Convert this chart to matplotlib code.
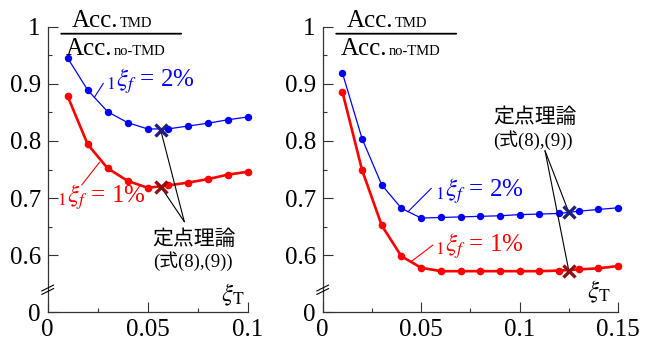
import numpy as np
import matplotlib
matplotlib.use("Agg")
import matplotlib.pyplot as plt

# data
xi_left = [0.01, 0.02, 0.03, 0.04, 0.05, 0.06, 0.07, 0.08, 0.09, 0.10]
left_2pct = [0.945, 0.889, 0.851, 0.832, 0.821, 0.821, 0.826, 0.831, 0.837, 0.842]
left_1pct = [0.878, 0.794, 0.752, 0.730, 0.718, 0.722, 0.727, 0.733, 0.741, 0.746]
left_fp_x = 0.0565
left_fp_2pct = 0.819
left_fp_1pct = 0.720

xi_right = [0.01, 0.02, 0.03, 0.04, 0.05, 0.06, 0.07, 0.08, 0.09, 0.10,
            0.11, 0.12, 0.13, 0.14, 0.15]
right_2pct = [0.919, 0.804, 0.723, 0.682, 0.665, 0.666, 0.667, 0.668, 0.669, 0.671,
              0.672, 0.673, 0.677, 0.680, 0.683]
right_1pct = [0.886, 0.749, 0.652, 0.598, 0.578, 0.572, 0.572, 0.572, 0.572, 0.572,
              0.572, 0.573, 0.575, 0.577, 0.581]
right_fp_x = 0.125
right_fp_2pct = 0.675
right_fp_1pct = 0.573

yticks = [0.5, 0.6, 0.7, 0.8, 0.9, 1.0]
ytick_labels = ["0", "0.6", "0.7", "0.8", "0.9", "1"]
left_xticks = [0, 0.05, 0.1]
left_xtick_labels = ["0", "0.05", "0.1"]
right_xticks = [0, 0.05, 0.1, 0.15]
right_xtick_labels = ["0", "0.05", "0.1", "0.15"]

label_2 = r"${}_{1}\xi_{f}$ = 2%"
label_1 = r"${}_{1}\xi_{f}$ = 1%"
note_1 = "定点理論"
note_2 = "(式(8),(9))"

plt.rcParams['font.family'] = 'serif'
plt.rcParams['font.serif'] = ['Liberation Serif']
plt.rcParams['mathtext.fontset'] = 'stix'
serif_cjk = ['Liberation Serif', 'Noto Sans CJK JP']

W, H = 653, 347
fig = plt.figure(figsize=(W / 100, H / 100), dpi=100)


def fp(x, y):
    # image pixel (top-left origin) -> figure pixels
    return (x, H - y)


def seg(ax, p0, p1, c="k", lw=0.8, c0="figure pixels", c1="figure pixels"):
    ax.annotate("", xy=p1, xycoords=c1, xytext=p0, textcoords=c0,
                arrowprops=dict(arrowstyle="-", color=c, lw=lw,
                                shrinkA=0, shrinkB=0), annotation_clip=False)


def setup(ax, x0, xmax, xticks, xlabels, minors):
    ax.set_xlim(0, xmax)
    ax.set_ylim(0.5, 1.0)
    ax.set_xticks(xticks)
    ax.set_xticklabels(xlabels)
    ax.set_xticks(minors, minor=True)
    ax.set_yticks(yticks)
    ax.set_yticklabels(ytick_labels)
    ax.set_yticks([0.65, 0.75, 0.85, 0.95], minor=True)
    ax.spines['top'].set_visible(False)
    ax.spines['right'].set_visible(False)
    for s in ['left', 'bottom']:
        ax.spines[s].set_linewidth(0.9)
        ax.spines[s].set_color("#333333")
    ax.tick_params(which='major', direction='in', length=7, width=0.8,
                   labelsize=18, pad=5, color="#333333")
    ax.tick_params(which='minor', direction='in', length=3, width=0.8,
                   color="#333333")
    # the fraction in the top left corner
    top = 26.7
    fig.text(*fp(x0 + 71, top + 0.5), "Acc.", fontsize=18, ha='right',
             va='baseline', transform=None)
    fig.text(*fp(x0 + 72, top + 0.5), "TMD", fontsize=10.5, va='baseline',
             transform=None)
    seg(ax, fp(x0 + 13.5, top + 7), fp(x0 + 133.5, top + 7), lw=1.3)
    fig.text(*fp(x0 + 65, top + 28.5), "Acc.", fontsize=18, ha='right',
             va='baseline', transform=None)
    fig.text(*fp(x0 + 66, top + 28.5), "no-TMD", fontsize=10.5, va='baseline',
             transform=None)
    # axis break marks
    seg(ax, fp(x0 - 6, 291), fp(x0 + 6, 285), lw=0.8)
    seg(ax, fp(x0 - 6, 294.5), fp(x0 + 6, 288.5), lw=0.8)


ax1 = fig.add_axes([47.7 / W, 34.7 / H, 200 / W, 285.6 / H])
ax2 = fig.add_axes([322.7 / W, 34.7 / H, 295.3 / W, 285.6 / H])
setup(ax1, 47.7, 0.1, left_xticks, left_xtick_labels, [0.025, 0.075])
setup(ax2, 322.7, 0.15, right_xticks, right_xtick_labels, [0.025, 0.075, 0.125])

blue = "#0000ff"
red = "#ff0000"
navy = "#20207a"
dred = "#8e1010"

for ax, x, y2, y1, fx, f2, f1 in [
        (ax1, xi_left, left_2pct, left_1pct, left_fp_x, left_fp_2pct, left_fp_1pct),
        (ax2, xi_right, right_2pct, right_1pct, right_fp_x, right_fp_2pct, right_fp_1pct)]:
    ax.plot(x, y2, color=blue, lw=0.9, marker='o', ms=4.3, clip_on=False, zorder=3)
    ax.plot(x, y1, color=red, lw=1.9, marker='o', ms=4.5, clip_on=False, zorder=3)
    ax.plot([fx], [f2], ls='none', marker='x', ms=8, mew=2.4, color=navy, zorder=5)
    ax.plot([fx], [f1], ls='none', marker='x', ms=8, mew=2.4, color=dred, zorder=5)

# curve labels and leader lines
fig.text(*fp(106, 87), label_2, fontsize=18, color=blue, va='baseline', transform=None)
seg(ax1, (0.0233, 0.876), fp(103.3, 83.3), c=blue, lw=0.8, c0="data")
fig.text(*fp(57, 203), label_1, fontsize=18, color=red, va='baseline', transform=None)
seg(ax1, (0.026, 0.763), fp(81.7, 185), c=red, lw=0.8, c0="data")

fig.text(*fp(435, 196.7), label_2, fontsize=18, color=blue, va='baseline', transform=None)
seg(ax2, (0.0433, 0.676), fp(431.3, 188.3), c=blue, lw=0.8, c0="data")
fig.text(*fp(435, 251.7), label_1, fontsize=18, color=red, va='baseline', transform=None)
seg(ax2, (0.045, 0.589), fp(433, 245), c=red, lw=0.8, c0="data")

# fixed point theory notes
fig.text(*fp(194, 239), note_1, fontsize=15, ha='center', va='center',
         family=['Noto Sans CJK JP'], transform=None)
fig.text(*fp(193, 261), note_2, fontsize=13.5, ha='center', va='center',
         family=serif_cjk, transform=None)
seg(ax1, fp(184.3, 221.7), (left_fp_x, left_fp_2pct), c1="data")
seg(ax1, fp(184.3, 221.7), (left_fp_x, left_fp_1pct), c1="data")

fig.text(*fp(535, 116.5), note_1, fontsize=15, ha='center', va='center',
         family=['Noto Sans CJK JP'], transform=None)
fig.text(*fp(533, 140), note_2, fontsize=13.5, ha='center', va='center',
         family=serif_cjk, transform=None)
seg(ax2, fp(545, 150.7), (right_fp_x, right_fp_2pct), c1="data")
seg(ax2, fp(545, 150.7), (right_fp_x, right_fp_1pct), c1="data")

# x axis names
fig.text(*fp(233, 295), r"$\xi_{\mathrm{T}}$", fontsize=18, ha='center', va='center',
         transform=None)
fig.text(*fp(599, 292), r"$\xi_{\mathrm{T}}$", fontsize=18, ha='center', va='center',
         transform=None)

fig.savefig("out.png", dpi=100)
